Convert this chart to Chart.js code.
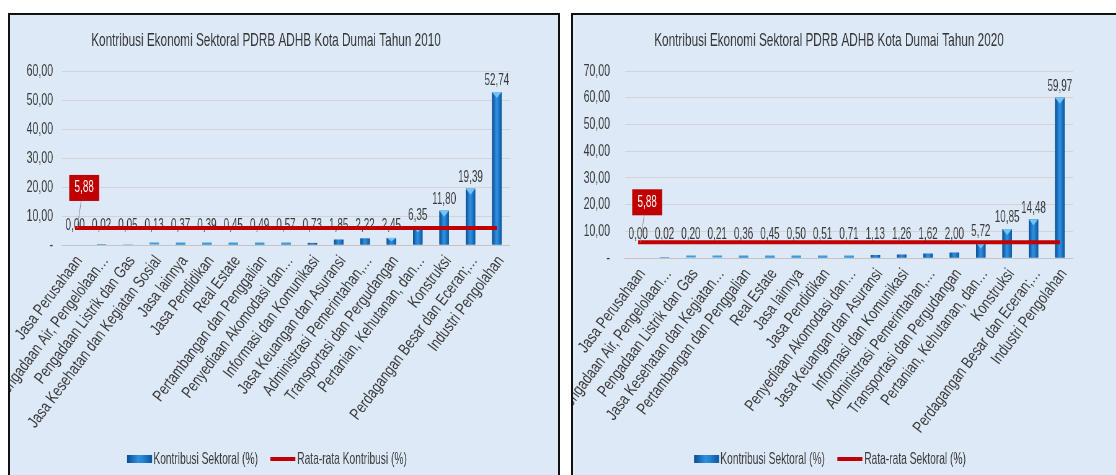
<!DOCTYPE html>
<html>
<head>
<meta charset="utf-8">
<script src="https://cdn.jsdelivr.net/npm/chart.js@4.4.0/dist/chart.umd.min.js"></script>
<style>
    body { margin: 0; width: 1116px; height: 475px; overflow: hidden; background: #fff; position: relative; }
    .panel { position: absolute; top: 13px; width: 548px; height: 470px; border: 2px solid #111; background: #dde9f6; overflow: hidden; }
    #p2010 { left: 8px; }
    #p2020 { left: 571px; }
    /* gambar asli tampak dipadatkan secara horizontal: kanvas ikut dipadatkan */
    canvas { display: block; transform: scaleX(0.62); transform-origin: 0 0; }
</style>
</head>
<body>
<div class="panel" id="p2010"><canvas id="graph_2010" width="884" height="460"></canvas></div>
<div class="panel" id="p2020"><canvas id="graph_2020" width="884" height="460"></canvas></div>
<script>
const sektor2010 = ['Jasa Perusahaan', 'Pengadaan Air, Pengelolaan…', 'Pengadaan Listrik dan Gas',
    'Jasa Kesehatan dan Kegiatan Sosial', 'Jasa lainnya', 'Jasa Pendidikan', 'Real Estate',
    'Pertambangan dan Penggalian', 'Penyediaan Akomodasi dan…', 'Informasi dan Komunikasi',
    'Jasa Keuangan dan Asuransi', 'Administrasi Pemerintahan,…', 'Transportasi dan Pergudangan',
    'Pertanian, Kehutanan, dan…', 'Konstruksi', 'Perdagangan Besar dan Eceran;…', 'Industri Pengolahan'];
const nilai2010 = [0.00, 0.02, 0.05, 0.13, 0.37, 0.39, 0.45, 0.49, 0.57, 0.73, 1.85, 2.22, 2.45, 6.35, 11.80, 19.39, 52.74];
const rata2010 = [5.88, 5.88, 5.88, 5.88, 5.88, 5.88, 5.88, 5.88, 5.88, 5.88, 5.88, 5.88, 5.88, 5.88, 5.88, 5.88, 5.88];

const sektor2020 = ['Jasa Perusahaan', 'Pengadaan Air, Pengelolaan…', 'Pengadaan Listrik dan Gas',
    'Jasa Kesehatan dan Kegiatan…', 'Pertambangan dan Penggalian', 'Real Estate', 'Jasa lainnya',
    'Jasa Pendidikan', 'Penyediaan Akomodasi dan…', 'Jasa Keuangan dan Asuransi',
    'Informasi dan Komunikasi', 'Administrasi Pemerintahan,…', 'Transportasi dan Pergudangan',
    'Pertanian, Kehutanan, dan…', 'Konstruksi', 'Perdagangan Besar dan Eceran;…', 'Industri Pengolahan'];
const nilai2020 = [0.00, 0.02, 0.20, 0.21, 0.36, 0.45, 0.50, 0.51, 0.71, 1.13, 1.26, 1.62, 2.00, 5.72, 10.85, 14.48, 59.97];
const rata2020 = [5.88, 5.88, 5.88, 5.88, 5.88, 5.88, 5.88, 5.88, 5.88, 5.88, 5.88, 5.88, 5.88, 5.88, 5.88, 5.88, 5.88];

const FONT = "'Liberation Sans', Arial, sans-serif";
const TEKS = '#3a3a3a';
const K = 0.62; // faktor pemadatan horizontal
const SUDUT = 53 * Math.PI / 180; // kemiringan label sumbu x
Chart.defaults.font.family = FONT;

const formatAngka = (v) => v.toFixed(2).replace('.', ',');

// gradient biru untuk batang (efek 3D seperti Excel)
const isiBatang = (ctx, x, w) => {
    const g = ctx.createLinearGradient(x - w / 2, 0, x + w / 2, 0);
    g.addColorStop(0, '#0b4d92');
    g.addColorStop(0.45, '#2f8fe0');
    g.addColorStop(0.6, '#2a86d6');
    g.addColorStop(1, '#0c559f');
    return g;
};

const panelPlugin = {
    id: 'panel',
    afterDatasetDraw(chart, args) {
        if (args.meta.type !== 'bar') return;
        const ctx = chart.ctx;
        const cfg = chart.options.plugins.panel;
        const data = chart.data.datasets[args.index].data;
        ctx.save();
        args.meta.data.forEach((bar, i) => {
            const { x, y, base, width } = bar.getProps(['x', 'y', 'base', 'width'], true);
            const h = base - y;
            if (h > 1.5) {
                ctx.fillStyle = isiBatang(ctx, x, width);
                ctx.fillRect(x - width / 2, y, width, h);
                if (h > 6) {
                    ctx.fillStyle = '#74c3f6';
                    ctx.beginPath();
                    ctx.moveTo(x - width / 2, y);
                    ctx.lineTo(x + width / 2, y);
                    ctx.lineTo(x, y + Math.min(6, h / 2));
                    ctx.closePath();
                    ctx.fill();
                }
            } else if (data[i] > 0.1) {
                ctx.fillStyle = '#3d9be0';
                ctx.fillRect(x - width / 2, base - 2, width, 2);
            }
            ctx.fillStyle = TEKS;
            ctx.font = '16px ' + FONT;
            ctx.textAlign = 'center';
            ctx.textBaseline = 'bottom';
            ctx.fillText(formatAngka(data[i]), x, Math.min(y - 3, base - cfg.lift));
        });
        ctx.restore();
    },
    afterDraw(chart) {
        const ctx = chart.ctx;
        const cfg = chart.options.plugins.panel;
        const sx = chart.scales.x;

        // label kategori: diputar tanpa ikut terdistorsi oleh pemadatan kanvas
        ctx.save();
        ctx.fillStyle = TEKS;
        ctx.font = '16.5px ' + FONT;
        ctx.textAlign = 'right';
        ctx.textBaseline = 'middle';
        chart.data.labels.forEach((label, i) => {
            ctx.save();
            ctx.translate(sx.getPixelForTick(i) + 4 / K, sx.top + 13);
            ctx.scale(1 / K, 1);
            ctx.rotate(-SUDUT);
            ctx.scale(0.78, 1);
            ctx.fillText(label, 0, 0);
            ctx.restore();
        });
        ctx.restore();

        ctx.save();
        // judul
        ctx.fillStyle = '#333';
        ctx.font = '19px ' + FONT;
        ctx.textAlign = 'center';
        ctx.textBaseline = 'middle';
        ctx.fillText(cfg.judul, 256 / K, 26);

        // label rata-rata
        const lineMeta = chart.getDatasetMeta(1);
        const p = lineMeta.data[0];
        const rata = chart.data.datasets[1].data[0];
        ctx.strokeStyle = '#8a8a8a';
        ctx.lineWidth = 1;
        ctx.beginPath();
        ctx.moveTo(p.x + 2 / K, p.y);
        ctx.lineTo(p.x + 6 / K, p.y - 27);
        ctx.stroke();
        ctx.fillStyle = '#c00000';
        ctx.fillRect(p.x - 6 / K, p.y - 53, 30 / K, 26);
        ctx.fillStyle = '#fff';
        ctx.font = '16px ' + FONT;
        ctx.fillText(formatAngka(rata), p.x + 9 / K, p.y - 40);

        // legenda
        const lab1 = chart.data.datasets[0].label;
        const lab2 = chart.data.datasets[1].label;
        ctx.font = '16.5px ' + FONT;
        const w1 = ctx.measureText(lab1).width;
        const w2 = ctx.measureText(lab2).width;
        const kotak = 25 / K;
        const total = kotak + 2 + w1 + 20 + kotak + 3 + w2;
        let lx = 257 / K - total / 2;
        const ly = 444;
        ctx.fillStyle = isiBatang(ctx, lx + kotak / 2, kotak);
        ctx.fillRect(lx, ly - 4, kotak, 8);
        lx += kotak + 2;
        ctx.fillStyle = TEKS;
        ctx.textAlign = 'left';
        ctx.fillText(lab1, lx, ly);
        lx += w1 + 20;
        ctx.fillStyle = '#c00000';
        ctx.fillRect(lx, ly - 2, kotak, 4);
        lx += kotak + 3;
        ctx.fillStyle = TEKS;
        ctx.fillText(lab2, lx, ly);
        ctx.restore();
    }
};

const buatGrafik = (canvasId, judul, sektor, nilai, rata, labelRata, yMax, opsi) => {
    const canvas = document.getElementById(canvasId);
    return new Chart(canvas, {
        type: 'bar',
        data: {
            labels: sektor,
            datasets: [
                {
                    type: 'bar',
                    label: 'Kontribusi Sektoral (%)',
                    data: nilai,
                    backgroundColor: '#1a72c6',
                    barPercentage: 0.36,
                    categoryPercentage: 1,
                    order: 2
                },
                {
                    type: 'line',
                    label: labelRata,
                    data: rata,
                    borderColor: '#c00000',
                    borderWidth: 4,
                    pointRadius: 0,
                    order: 1
                }
            ]
        },
        options: {
            responsive: false,
            animation: false,
            layout: { padding: { top: 56, left: 0, right: 884 - 500 / K, bottom: opsi.bawah } },
            plugins: {
                legend: { display: false },
                tooltip: { enabled: false },
                panel: { judul: judul, lift: opsi.lift }
            },
            scales: {
                x: {
                    grid: { display: false },
                    border: { display: true, color: '#c4c4c4' },
                    ticks: { display: false, autoSkip: false },
                    afterFit(s) { s.height = 200; s.paddingLeft = 0; s.paddingRight = 0; }
                },
                y: {
                    min: 0,
                    max: yMax,
                    grid: { color: '#d3d3d3', drawTicks: false },
                    border: { display: false },
                    ticks: {
                        stepSize: 10, padding: opsi.tickPad / K, color: TEKS, font: { size: 17 },
                        callback: (v) => v === 0 ? '-' : formatAngka(v)
                    },
                    afterFit(s) { s.width = 52 / K; }
                }
            }
        },
        plugins: [panelPlugin]
    });
};

buatGrafik('graph_2010', 'Kontribusi Ekonomi Sektoral PDRB ADHB Kota Dumai Tahun 2010',
    sektor2010, nilai2010, rata2010, 'Rata-rata Kontribusi (%)', 60, { bawah: 30, lift: 11, tickPad: 9 });
buatGrafik('graph_2020', 'Kontribusi Ekonomi Sektoral PDRB ADHB Kota Dumai Tahun 2020',
    sektor2020, nilai2020, rata2020, 'Rata-rata Sektoral (%)', 70, { bawah: 17, lift: 15, tickPad: 15 });
</script>
</body>
</html>
